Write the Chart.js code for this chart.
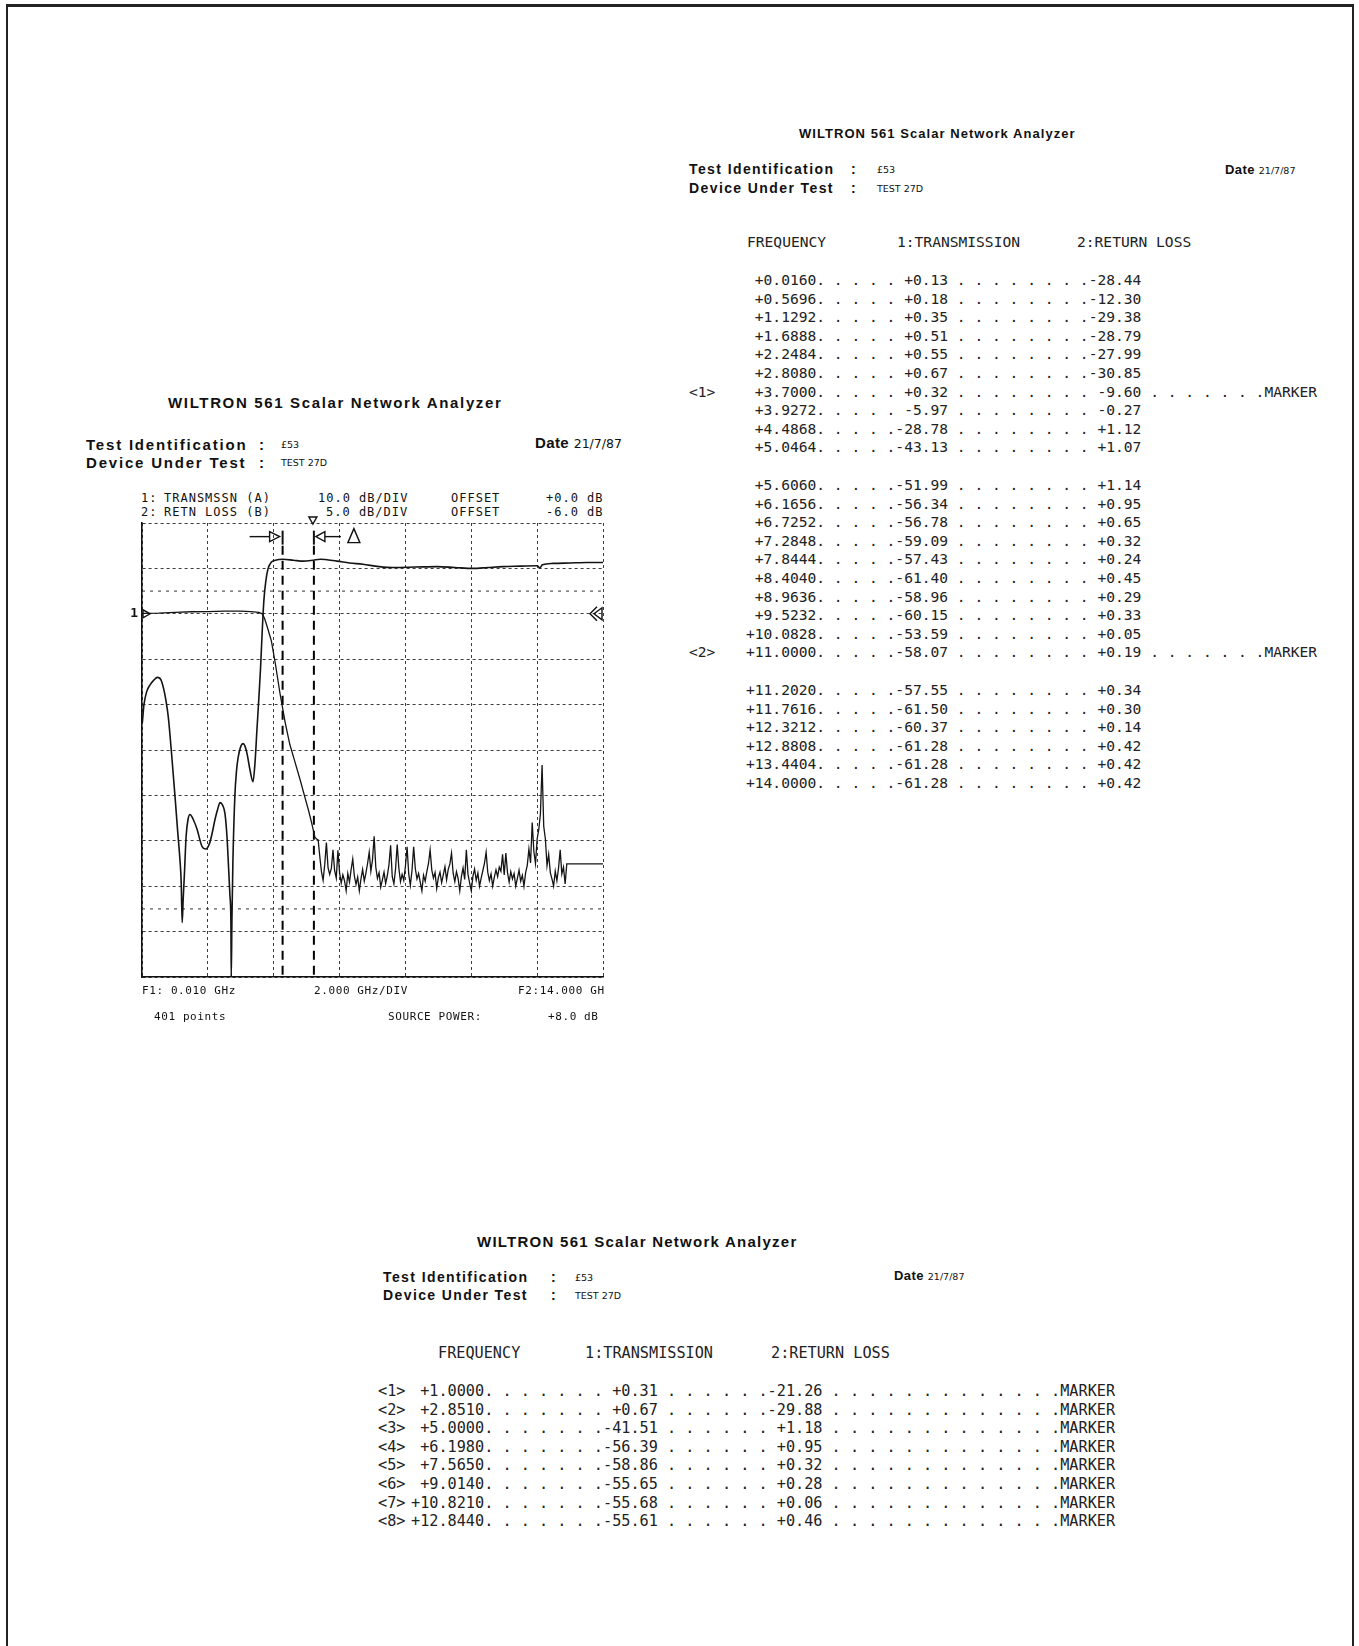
<!DOCTYPE html>
<html>
<head>
<meta charset="utf-8">
<script src="https://cdn.jsdelivr.net/npm/chart.js@4.4.0/dist/chart.umd.min.js"></script>
<style>
html, body { margin:0; padding:0; background:#fff; }
#page { position:relative; width:1359px; height:1646px; overflow:hidden; background:#fff; }
#frame { position:absolute; left:6px; top:4px; width:1344px; height:1700px;
  border-left:2px solid #222; border-right:2px solid #222; border-top:3px solid #222; }
.t { position:absolute; white-space:pre; color:#111; line-height:1; transform:translateY(-50%); }
.ti, .id, .dt { font-family:"Liberation Sans", sans-serif; font-weight:bold; }
.ti { font-size:13px; letter-spacing:1.05px; }
.id { font-size:14px; letter-spacing:1.4px; }
.dt { font-size:13px; letter-spacing:0.4px; }
.big .ti { font-size:15px; letter-spacing:1.25px; }
.lft .ti { font-size:15px; letter-spacing:1.65px; }
.lft .id { font-size:15px; letter-spacing:1.8px; }
.lft .dt { font-size:15px; }
.sm { font-family:"DejaVu Sans", sans-serif; font-size:9.5px; font-weight:normal; letter-spacing:0; }
.lft .dt .sm { font-size:12.5px; }
.pl { font-family:"DejaVu Sans Mono", monospace; font-size:12px; letter-spacing:1px; color:#111; }
.pb { font-family:"DejaVu Sans Mono", monospace; font-size:11px; letter-spacing:0.6px; color:#111; }
.tb { font-family:"DejaVu Sans Mono", monospace; font-size:14.6px; color:#222; }
.tb2 { font-family:"DejaVu Sans Mono", monospace; font-size:15.2px; color:#222; }
#chartBox { position:absolute; left:100px; top:480px; width:540px; height:560px; }
</style>
</head>
<body>
<div id="page">
<div id="frame"></div>

<!-- plot block -->
<div class="lft">
<div class="t ti" style="left:168px;top:402px">WILTRON 561 Scalar Network Analyzer</div>
<div class="t id" style="left:86px;top:444px">Test Identification</div>
<div class="t id" style="left:259px;top:444px">:</div>
<div class="t sm" style="left:281px;top:445px">£53</div>
<div class="t dt" style="left:535px;top:443px">Date <span class="sm">21/7/87</span></div>
<div class="t id" style="left:86px;top:462px">Device Under Test</div>
<div class="t id" style="left:259px;top:462px">:</div>
<div class="t sm" style="left:281px;top:463px">TEST 27D</div>
</div>

<div class="t pl" style="left:141px;top:498px">1:</div>
<div class="t pl" style="left:164px;top:498px">TRANSMSSN (A)</div>
<div class="t pl" style="left:318px;top:498px">10.0 dB/DIV</div>
<div class="t pl" style="left:451px;top:498px">OFFSET</div>
<div class="t pl" style="left:546px;top:498px">+0.0 dB</div>
<div class="t pl" style="left:141px;top:512px">2:</div>
<div class="t pl" style="left:164px;top:512px">RETN LOSS (B)</div>
<div class="t pl" style="left:326px;top:512px">5.0 dB/DIV</div>
<div class="t pl" style="left:451px;top:512px">OFFSET</div>
<div class="t pl" style="left:546px;top:512px">-6.0 dB</div>

<div id="chartBox"><canvas id="sna" width="540" height="560"></canvas></div>

<div class="t pb" style="left:142px;top:990px">F1: 0.010 GHz</div>
<div class="t pb" style="left:314px;top:990px">2.000 GHz/DIV</div>
<div class="t pb" style="left:518px;top:990px">F2:14.000 GH</div>
<div class="t pb" style="left:154px;top:1016px">401 points</div>
<div class="t pb" style="left:388px;top:1016px">SOURCE POWER:</div>
<div class="t pb" style="left:548px;top:1016px">+8.0 dB</div>

<!-- right listing -->
<div class="t ti" style="left:799px;top:133px">WILTRON 561 Scalar Network Analyzer</div>
<div class="t id" style="left:689px;top:169px">Test Identification</div>
<div class="t id" style="left:851px;top:169px">:</div>
<div class="t sm" style="left:877px;top:170px">£53</div>
<div class="t dt" style="left:1225px;top:169px">Date <span class="sm">21/7/87</span></div>
<div class="t id" style="left:689px;top:188px">Device Under Test</div>
<div class="t id" style="left:851px;top:188px">:</div>
<div class="t sm" style="left:877px;top:189px">TEST 27D</div>
<div class="t tb" style="left:747px;top:242px">FREQUENCY</div>
<div class="t tb" style="left:897px;top:242px">1:TRANSMISSION</div>
<div class="t tb" style="left:1077px;top:242px">2:RETURN LOSS</div>
<div id="listA"></div>

<!-- bottom listing -->
<div class="big">
<div class="t ti" style="left:477px;top:1241px">WILTRON 561 Scalar Network Analyzer</div>
</div>
<div class="t id" style="left:383px;top:1277px">Test Identification</div>
<div class="t id" style="left:551px;top:1277px">:</div>
<div class="t sm" style="left:575px;top:1278px">£53</div>
<div class="t dt" style="left:894px;top:1275px">Date <span class="sm">21/7/87</span></div>
<div class="t id" style="left:383px;top:1295px">Device Under Test</div>
<div class="t id" style="left:551px;top:1295px">:</div>
<div class="t sm" style="left:575px;top:1296px">TEST 27D</div>
<div class="t tb2" style="left:438px;top:1354px">FREQUENCY</div>
<div class="t tb2" style="left:585px;top:1354px">1:TRANSMISSION</div>
<div class="t tb2" style="left:771px;top:1354px">2:RETURN LOSS</div>
<div id="listB"></div>
</div>

<script>
// trace scaling, as set on the analyser
var transPerDiv = 10, transOffset = 0;
var rlPerDiv = 5, rlOffset = -6;

// channel 1 (transmission)
var transFreq = [0.01, 0.50, 1.00, 1.50, 2.00, 2.50, 3.00, 3.30, 3.55, 3.65, 3.72, 3.80, 3.93, 4.05, 4.19, 4.35, 4.49, 4.60, 4.80, 4.95, 5.05, 5.15, 5.25];
var transDb   = [0.1, 0.15, 0.3, 0.45, 0.5, 0.6, 0.6, 0.5, 0.3, 0.0, -1.0, -2.8, -6.0, -11.0, -17.5, -24.0, -28.8, -31.5, -36.5, -40.5, -43.1, -46.0, -49.2];
// noise floor, one reading every 0.05 GHz from 5.30 GHz
var noiseStart = 5.30, noiseStep = 0.05;
var noiseDb = [
  -49.6,-49.8,-53.5,-56.8,-58.7,-55.2,-50.4,-55.9,-57.4,-56.1,
  -52.0,-56.6,-58.2,-52.1,-57.0,-59.3,-57.5,-58.8,-61.0,-57.2,
  -59.1,-56.4,-54.0,-57.8,-59.6,-58.0,-61.0,-58.4,-56.3,-58.9,
  -57.1,-55.0,-52.5,-56.7,-54.2,-49.0,-55.8,-58.3,-57.0,-60.2,
  -58.6,-56.9,-59.4,-57.7,-55.3,-51.0,-57.9,-59.5,-56.2,-50.8,
  -56.0,-59.0,-57.4,-58.7,-55.6,-51.3,-57.3,-59.8,-56.5,-51.3,
  -56.1,-58.4,-57.2,-59.1,-61.0,-57.6,-58.9,-56.8,-55.0,-52.0,
  -56.4,-58.2,-57.0,-60.5,-58.1,-56.9,-59.2,-57.5,-55.7,-58.6,
  -56.3,-55.1,-52.7,-57.2,-59.0,-56.8,-58.3,-61.0,-57.9,-56.0,
  -58.5,-52.0,-57.4,-59.3,-61.0,-57.8,-56.2,-58.7,-57.1,-60.0,
  -58.2,-56.6,-55.0,-52.5,-56.9,-58.8,-57.3,-60.0,-58.0,-56.4,
  -57.9,-55.8,-56.7,-53.0,-57.5,-52.7,-57.0,-59.1,-56.8,-58.4,
  -57.2,-60.0,-58.3,-56.5,-58.9,-57.6,-60.0,-57.0,-55.4,-51.8,
  -54.9,-46.0,-52.3,-55.0,-49.6,-47.5,-44.0,-33.3,-46.8,-49.6,
  -55.5,-53.0,-57.0,-58.4,-60.0,-56.7,-58.8,-56.0,-52.0,-57.3,
  -55.8,-59.5
];
var tailFreq = [12.90, 14.00];
var tailDb = [-55.1, -55.1];

// channel 2 (return loss)
var rlFreq = [0.01, 0.06, 0.14, 0.25, 0.36, 0.47, 0.58, 0.66, 0.72, 0.80, 0.90, 1.00, 1.08, 1.15, 1.19, 1.22, 1.25, 1.29, 1.34, 1.40,
  1.46, 1.55, 1.67, 1.82, 1.94, 2.06, 2.14, 2.22, 2.30, 2.37, 2.45, 2.52, 2.58, 2.63, 2.67, 2.70, 2.71, 2.73, 2.76, 2.82,
  2.87, 2.92, 3.00, 3.07, 3.13, 3.19, 3.28, 3.37, 3.43, 3.49, 3.55, 3.60, 3.65, 3.70, 3.76, 3.83, 3.93, 4.05, 4.28, 4.60,
  4.89, 5.20, 5.41, 5.92, 6.30, 6.71, 7.20, 7.62, 8.30, 8.96, 9.50, 10.05, 10.50, 10.96, 11.50, 12.00, 12.08, 12.16, 12.48, 13.00,
  13.51, 14.00];
var rlDb = [-18.0, -16.0, -14.6, -13.8, -13.3, -13.0, -13.3, -14.3, -15.4, -17.4, -21.5, -26.0, -29.8, -33.0, -35.5, -40.0, -37.5, -34.5, -30.5, -28.6,
  -28.1, -28.6, -29.7, -31.6, -31.9, -31.2, -30.0, -28.6, -27.5, -26.8, -27.1, -28.0, -30.5, -34.0, -37.0, -40.0, -46.0, -40.0, -33.4, -26.1,
  -23.3, -21.8, -20.6, -20.3, -20.6, -21.4, -23.2, -24.5, -22.5, -18.8, -15.2, -12.0, -8.0, -4.6, -2.4, -1.0, -0.3, -0.1, 0.0, -0.1,
  -0.2, -0.1, 0.0, -0.2, -0.4, -0.55, -0.8, -0.9, -0.85, -0.8, -0.9, -1.0, -0.9, -0.8, -0.75, -0.7, -0.95, -0.6, -0.45, -0.4,
  -0.35, -0.35];

// cursor lines and the half-division limit lines (in divisions)
var cursorFreq = [4.27, 5.22];
var limitDiv = [0.5, -6.5];

// right listing
var listFreq  = [0.0160, 0.5696, 1.1292, 1.6888, 2.2484, 2.8080, 3.7000, 3.9272, 4.4868, 5.0464,
  5.6060, 6.1656, 6.7252, 7.2848, 7.8444, 8.4040, 8.9636, 9.5232, 10.0828, 11.0000,
  11.2020, 11.7616, 12.3212, 12.8808, 13.4404, 14.0000];
var listTrans = [0.13, 0.18, 0.35, 0.51, 0.55, 0.67, 0.32, -5.97, -28.78, -43.13,
  -51.99, -56.34, -56.78, -59.09, -57.43, -61.40, -58.96, -60.15, -53.59, -58.07,
  -57.55, -61.50, -60.37, -61.28, -61.28, -61.28];
var listRl    = [-28.44, -12.30, -29.38, -28.79, -27.99, -30.85, -9.60, -0.27, 1.12, 1.07,
  1.14, 0.95, 0.65, 0.32, 0.24, 0.45, 0.29, 0.33, 0.05, 0.19,
  0.34, 0.30, 0.14, 0.42, 0.42, 0.42];
var listMarker = {6: '<1>', 19: '<2>'};
var listGroups = [0, 10, 20];

// bottom listing: marker readouts
var mkFreq  = [1.0000, 2.8510, 5.0000, 6.1980, 7.5650, 9.0140, 10.8210, 12.8440];
var mkTrans = [0.31, 0.67, -41.51, -56.39, -58.86, -55.65, -55.68, -55.61];
var mkRl    = [-21.26, -29.88, 1.18, 0.95, 0.32, 0.28, 0.06, 0.46];

function sgn(v, d) { return (v >= 0 ? '+' : '') + v.toFixed(d); }
function rowText(f, t, r, lead1, lead2) {
  return (sgn(f, 4) + '.').padStart(9) + lead1 + sgn(t, 2).padStart(6) + lead2 + sgn(r, 2).padStart(6);
}
function addText(parent, cls, x, y, s) {
  var d = document.createElement('div');
  d.className = 't ' + cls;
  d.style.left = x + 'px';
  d.style.top = y + 'px';
  d.textContent = s;
  parent.appendChild(d);
}

var listA = document.getElementById('listA');
var groupTop = [280, 485, 690];
listFreq.forEach(function(f, i) {
  var g = listGroups.filter(function(s) { return i >= s; }).length - 1;
  var y = groupTop[g] + (i - listGroups[g]) * 18.6;
  var s = rowText(f, listTrans[i], listRl[i], ' . . . .', ' . . . . . . . .');
  if (listMarker[i]) {
    s += ' . . . . . . .MARKER';
    addText(listA, 'tb', 689, y, listMarker[i]);
  }
  addText(listA, 'tb', 746, y, s);
});

var listB = document.getElementById('listB');
mkFreq.forEach(function(f, i) {
  var y = 1392 + i * 18.6;
  addText(listB, 'tb2', 378, y, '<' + (i + 1) + '>');
  addText(listB, 'tb2', 411, y, rowText(f, mkTrans[i], mkRl[i], ' . . . . . .', ' . . . . . .') + ' . . . . . . . . . . . . .MARKER');
});

// build the traces in screen divisions (reference line = 0, 2 div below top)
var transPts = [];
transFreq.forEach(function(f, i) { transPts.push({x: f, y: (transDb[i] - transOffset) / transPerDiv}); });
noiseDb.forEach(function(v, i) { transPts.push({x: noiseStart + i * noiseStep, y: (v - transOffset) / transPerDiv}); });
tailFreq.forEach(function(f, i) { transPts.push({x: f, y: (tailDb[i] - transOffset) / transPerDiv}); });

var rlPts = rlFreq.map(function(f, i) { return {x: f, y: (rlDb[i] - rlOffset) / rlPerDiv}; });

var ink = '#141414';
var datasets = [
  {data: rlPts, borderColor: ink, borderWidth: 1.6, cubicInterpolationMode: 'monotone'},
  {data: transPts, borderColor: ink, borderWidth: 1.3}
];
cursorFreq.forEach(function(f) {
  datasets.push({data: [{x: f, y: 1.5}, {x: f, y: -8}], borderColor: '#000', borderWidth: 2, borderDash: [9, 6]});
});
limitDiv.forEach(function(d) {
  datasets.push({data: [{x: 0, y: d}, {x: 14, y: d}], borderColor: '#333', borderWidth: 1, borderDash: [3, 5]});
});

function tri(c, pts) {
  c.beginPath();
  c.moveTo(pts[0], pts[1]);
  c.lineTo(pts[2], pts[3]);
  c.lineTo(pts[4], pts[5]);
  c.closePath();
  c.stroke();
}

var marks = {
  id: 'marks',
  afterDatasetsDraw: function(chart) {
    var c = chart.ctx, xs = chart.scales.x, ys = chart.scales.y, a = chart.chartArea;
    var m1 = xs.getPixelForValue(cursorFreq[0]);
    var m2 = xs.getPixelForValue(cursorFreq[1]);
    var ay = ys.getPixelForValue(1.7);
    var ref = ys.getPixelForValue(0);
    c.save();
    c.strokeStyle = '#111';
    c.fillStyle = '#111';
    c.lineWidth = 1.4;
    // cursor 1 arrow
    c.beginPath(); c.moveTo(m1 - 33, ay); c.lineTo(m1 - 13, ay); c.stroke();
    tri(c, [m1 - 13, ay - 5, m1 - 13, ay + 5, m1 - 3, ay]);
    c.lineWidth = 2;
    c.beginPath(); c.moveTo(m1, ay - 6); c.lineTo(m1, ay + 8); c.stroke();
    // cursor 2 arrow + delta
    c.beginPath(); c.moveTo(m2, ay - 6); c.lineTo(m2, ay + 8); c.stroke();
    c.lineWidth = 1.4;
    tri(c, [m2 + 11, ay - 5, m2 + 11, ay + 5, m2 + 2, ay]);
    c.beginPath(); c.moveTo(m2 + 11, ay); c.lineTo(m2 + 27, ay); c.stroke();
    tri(c, [m2 + 34, ay + 6, m2 + 46, ay + 6, m2 + 40, ay - 8]);
    // active marker at the top edge
    tri(c, [m2 - 5, a.top - 6, m2 + 3, a.top - 6, m2 - 1, a.top + 1]);
    // channel 1 reference
    c.font = 'bold 13px "DejaVu Sans Mono"';
    c.textAlign = 'right';
    c.textBaseline = 'middle';
    c.fillText('1', a.left - 4, ref);
    tri(c, [a.left + 1, ref - 4, a.left + 1, ref + 4, a.left + 8, ref]);
    // channel 2 reference at right edge
    tri(c, [a.right - 1, ref - 6, a.right - 1, ref + 6, a.right - 9, ref]);
    c.beginPath(); c.moveTo(a.right - 6, ref - 7); c.lineTo(a.right - 13, ref); c.lineTo(a.right - 6, ref + 7); c.stroke();
    c.restore();
  }
};

var gridStyle = {color: '#3c3c3c', lineWidth: 1, drawTicks: false};
var borderStyle = {display: true, color: '#111', width: 1.6, dash: [3, 3]};

new Chart(document.getElementById('sna'), {
  type: 'line',
  data: {datasets: datasets},
  options: {
    responsive: false,
    animation: false,
    devicePixelRatio: 1,
    layout: {padding: {left: 42, top: 43, right: 37, bottom: 63}},
    plugins: {legend: {display: false}, tooltip: {enabled: false}},
    elements: {point: {radius: 0}, line: {tension: 0}},
    scales: {
      x: {type: 'linear', min: 0, max: 14, ticks: {display: false, stepSize: 2}, grid: gridStyle, border: borderStyle},
      y: {type: 'linear', min: -8, max: 2, ticks: {display: false, stepSize: 1}, grid: gridStyle, border: borderStyle}
    }
  },
  plugins: [marks]
});
</script>
</body>
</html>
